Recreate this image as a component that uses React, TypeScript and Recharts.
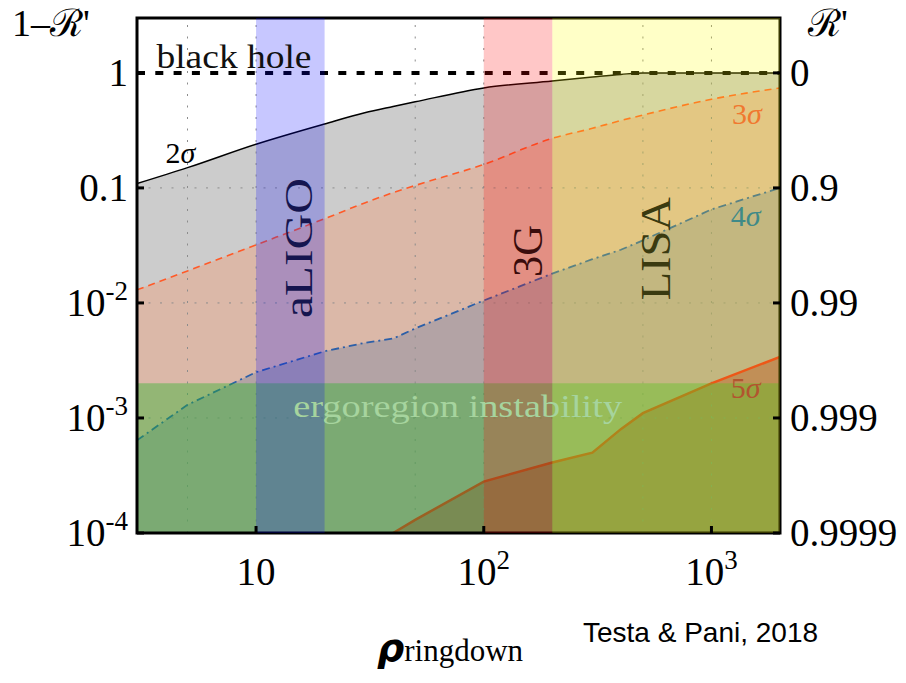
import React from 'react';
import { ComposedChart, Area, Line, XAxis, YAxis, ReferenceArea, ReferenceLine, ReferenceDot } from 'recharts';

// rho_ringdown grid and the 1 - R' bounds
const rho = [3, 5, 10, 20, 30, 40, 50, 100, 200, 300, 400, 500, 1000, 2000];
const sigma2 = [0.109, 0.15, 0.24, 0.36, 0.45, 0.51, 0.56, 0.74, 0.85, 0.92, 0.97, 1.0, 1.0, 1.0];
const sigma3 = [0.013, 0.019, 0.032, 0.054, 0.074, 0.091, 0.105, 0.16, 0.27, 0.33, 0.385, 0.43, 0.59, 0.74];
const sigma4 = [6.4e-4, 1.3e-3, 2.5e-3, 3.8e-3, 4.5e-3, 4.9e-3, 6.0e-3, 0.0105, 0.018, 0.024, 0.029, 0.035, 0.065, 0.1];
const sigma5 = [null, null, null, null, null, 1.0e-4, 1.3e-4, 2.8e-4, 4.1e-4, 5.0e-4, 8.0e-4, 1.1e-3, 2.0e-3, 3.4e-3];

const xTicks = [10, 100, 1000];
const yTicks = [1e-4, 1e-3, 1e-2, 0.1, 1];
const xGrid = [5, 10, 50, 100, 500, 1000];
const yGrid = [1e-3, 1e-2, 0.1];

const detectors = [
  { name: 'aLIGO', from: 10, to: 20 },
  { name: '3G', from: 100, to: 200 },
  { name: 'LISA', from: 200, to: 2000 },
];
const bandColors = ['rgb(0,0,255)', 'rgb(255,0,0)', 'rgb(255,255,0)'];

const ergoTop = 2e-3;
const blackHole = 1;

const data = rho.map((r, i) => ({ rho: r, s2: sigma2[i], s3: sigma3[i], s4: sigma4[i], s5: sigma5[i] }));

const SERIF = '"Liberation Serif", "DejaVu Serif", serif';

const XTick = ({ x, y, payload }: any) => {
  const e = Math.round(Math.log10(payload.value));
  return (
    <text x={x} y={y + 49} textAnchor="middle" fontFamily={SERIF} fontSize={39} fill="#000">
      <tspan>10</tspan>
      {e !== 1 && <tspan dy={-16} fontSize={27}>{e}</tspan>}
    </text>
  );
};

const LeftTick = ({ x, y, payload }: any) => {
  const e = Math.round(Math.log10(payload.value));
  return (
    <text x={x} y={y + 13} textAnchor="end" fontFamily={SERIF} fontSize={39} fill="#000">
      {e === 0 ? '1' : e === -1 ? '0.1' : (
        <>
          <tspan>10</tspan>
          <tspan dy={-16} fontSize={27}>{'-' + -e}</tspan>
        </>
      )}
    </text>
  );
};

const RightTick = ({ x, y, payload }: any) => {
  const e = Math.round(Math.log10(payload.value));
  return (
    <text x={x} y={y + 13} textAnchor="start" fontFamily={SERIF} fontSize={39} fill="#000">
      {e === 0 ? '0' : '0.' + '9'.repeat(-e)}
    </text>
  );
};

const Note = (props: any) => {
  const { txt, sig, fs = 28, col = '#000', anc = 'start', rot = false, len } = props;
  const vb = props.viewBox || { x: 0, y: 0 };
  const x = vb.x;
  const y = vb.y;
  return (
    <text
      x={x}
      y={y}
      fontFamily={SERIF}
      fontSize={fs}
      fill={col}
      textAnchor={anc}
      transform={rot ? `rotate(-90 ${x} ${y})` : undefined}
      textLength={len}
      lengthAdjust={len ? 'spacingAndGlyphs' : undefined}
    >
      {sig ? (
        <>
          <tspan>{sig}</tspan>
          <tspan fontStyle="italic">σ</tspan>
        </>
      ) : txt}
    </text>
  );
};

export default function App() {
  return (
    <div style={{ position: 'absolute', left: 0, top: 0, width: 906, height: 683, background: '#fff' }}>
      <ComposedChart width={906} height={683} data={data} margin={{ top: 18, right: 0, bottom: 0, left: 0 }}>
        <XAxis
          dataKey="rho"
          type="number"
          scale="log"
          domain={[3, 2000]}
          allowDataOverflow
          ticks={xTicks}
          interval={0}
          height={150}
          axisLine={false}
          tickSize={-7}
          tickMargin={10}
          tickLine={{ stroke: '#000', strokeWidth: 3 }}
          tick={<XTick />}
        />
        <YAxis
          yAxisId="l"
          type="number"
          scale="log"
          domain={[1e-4, 3]}
          allowDataOverflow
          ticks={yTicks}
          interval={0}
          width={137}
          axisLine={false}
          tickSize={-7}
          tickMargin={16}
          tickLine={{ stroke: '#000', strokeWidth: 3 }}
          tick={<LeftTick />}
        />
        <YAxis
          yAxisId="r"
          orientation="right"
          type="number"
          scale="log"
          domain={[1e-4, 3]}
          allowDataOverflow
          ticks={yTicks}
          interval={0}
          width={126}
          axisLine={false}
          tickSize={-7}
          tickMargin={17}
          tickLine={{ stroke: '#000', strokeWidth: 3 }}
          tick={<RightTick />}
        />

        <Area yAxisId="l" dataKey="s2" type="monotone" baseValue={1e-4} fill="#cccccc" fillOpacity={1} stroke="none" isAnimationActive={false} />
        <Area yAxisId="l" dataKey="s3" type="monotone" baseValue={1e-4} fill="#dbb8a8" fillOpacity={1} stroke="none" isAnimationActive={false} />
        <Area yAxisId="l" dataKey="s4" type="linear" baseValue={1e-4} fill="#b3a3a5" fillOpacity={1} stroke="none" isAnimationActive={false} />
        <Area yAxisId="l" dataKey="s5" type="linear" baseValue={1e-4} fill="#b07070" fillOpacity={1} stroke="none" isAnimationActive={false} />

        {xGrid.map((v) => (
          <ReferenceLine key={'gx' + v} yAxisId="l" x={v} stroke="#8c8c8c" strokeWidth={1} strokeDasharray="2 9.5" />
        ))}
        {yGrid.map((v) => (
          <ReferenceLine key={'gy' + v} yAxisId="l" y={v} stroke="#8c8c8c" strokeWidth={1} strokeDasharray="2 9.5" />
        ))}

        <Line yAxisId="l" dataKey="s2" type="monotone" stroke="#000" strokeWidth={1.5} dot={false} activeDot={false} isAnimationActive={false} />
        <Line yAxisId="l" dataKey="s3" type="monotone" stroke="#ff5a28" strokeWidth={1.6} strokeDasharray="7 5" dot={false} activeDot={false} isAnimationActive={false} />
        <Line yAxisId="l" dataKey="s4" type="linear" stroke="#2c5fa8" strokeWidth={1.8} strokeDasharray="8 4 2 4" dot={false} activeDot={false} isAnimationActive={false} />
        <Line yAxisId="l" dataKey="s5" type="linear" stroke="#e8281e" strokeWidth={2.5} dot={false} activeDot={false} isAnimationActive={false} />

        {/* ergoregion instability band */}
        <ReferenceArea yAxisId="l" x1={3} x2={2000} y1={1e-4} y2={ergoTop} fill="rgb(40,180,40)" fillOpacity={0.4} stroke="none" ifOverflow="visible" zIndex={410} />

        <ReferenceLine yAxisId="l" y={blackHole} stroke="#000" strokeWidth={4} strokeDasharray="8 10.3" zIndex={430} />

        <ReferenceArea yAxisId="l" x1={3} x2={2000} y1={1e-4} y2={3} fill="none" stroke="#000" strokeWidth={3} ifOverflow="visible" zIndex={440} />

        {detectors.map((d, i) => (
          <ReferenceArea
            key={d.name}
            yAxisId="l"
            x1={d.from}
            x2={d.to}
            y1={1e-4}
            y2={3}
            fill={bandColors[i]}
            fillOpacity={0.22}
            stroke="none"
            ifOverflow="visible"
            zIndex={450}
          />
        ))}

        <ReferenceDot yAxisId="l" x={8.0} y={1.1} r={0} fill="none" stroke="none" label={<Note txt="black hole" fs={33} anc="middle" len={155} col="#111" />} />
        <ReferenceDot yAxisId="l" x={4.0} y={0.165} r={0} fill="none" stroke="none" label={<Note sig="2" fs={30} />} />
        <ReferenceDot yAxisId="l" x={1230} y={0.36} r={0} fill="none" stroke="none" label={<Note sig="3" fs={30} col="#f07830" />} />
        <ReferenceDot yAxisId="l" x={1215} y={0.0465} r={0} fill="none" stroke="none" label={<Note sig="4" fs={30} col="#3f8a88" />} />
        <ReferenceDot yAxisId="l" x={1215} y={1.49e-3} r={0} fill="none" stroke="none" label={<Note sig="5" fs={30} col="#b2552f" />} />
        <ReferenceDot yAxisId="l" x={17.6} y={0.03} r={0} fill="none" stroke="none" label={<Note txt="aLIGO" fs={41} anc="middle" rot len={140} col="#15154f" />} />
        <ReferenceDot yAxisId="l" x={180} y={0.0283} r={0} fill="none" stroke="none" label={<Note txt="3G" fs={42} anc="middle" rot len={52} col="#3a0c0c" />} />
        <ReferenceDot yAxisId="l" x={658} y={0.0296} r={0} fill="none" stroke="none" label={<Note txt="LISA" fs={43} anc="middle" rot len={103} col="#3a3a10" />} />
        <ReferenceDot yAxisId="l" x={76.8} y={1.02e-3} r={0} fill="none" stroke="none" label={<Note txt="ergoregion instability" fs={31} anc="middle" len={329} col="#a6d49e" />} />
      </ComposedChart>

      <svg width={906} height={683} style={{ position: 'absolute', left: 0, top: 0, pointerEvents: 'none' }}>
        <text x={12} y={36} fontFamily={SERIF} fontSize={38} fill="#000">1–ℛ'</text>
        <text x={808} y={36} fontFamily={SERIF} fontSize={38} fill="#000">ℛ'</text>
        <text x={377} y={661} fill="#000">
          <tspan fontFamily='"DejaVu Sans", sans-serif' fontWeight="bold" fontStyle="italic" fontSize={38}>ρ</tspan>
          <tspan fontFamily={SERIF} fontSize={31}>ringdown</tspan>
        </text>
        <text x={583} y={642} fontFamily='"Liberation Sans", Arial, sans-serif' fontSize={28} fill="#000">Testa &amp; Pani, 2018</text>
      </svg>
    </div>
  );
}
